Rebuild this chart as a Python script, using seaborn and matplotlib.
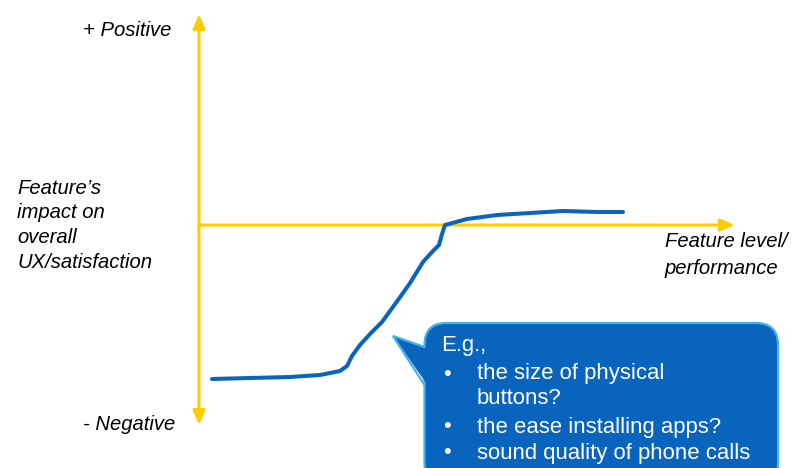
import matplotlib
matplotlib.use("Agg")
import matplotlib.pyplot as plt
from matplotlib.patches import FancyBboxPatch, Polygon
import seaborn as sns
import pandas as pd

sns.set_theme(style="white")
plt.rcParams["font.family"] = ["Liberation Sans", "DejaVu Sans"]

# Response curve: feature level vs. impact on overall UX/satisfaction
feature_level = [1.3, 5.1, 9.1, 12.1, 14.1, 14.8, 15.3, 16.1, 17.1, 18.3, 19.9,
                 21.1, 22.4, 23.4, 24.0, 24.3, 24.6, 26.8, 29.8, 33.1, 36.4,
                 39.8, 42.4]
impact = [-15.4, -15.3, -15.2, -15.0, -14.6, -14.1, -13.1, -12.0, -10.9, -9.7,
          -7.5, -5.8, -3.7, -2.6, -2.0, -0.9, 0.0, 0.6, 1.0, 1.2, 1.4, 1.3, 1.3]

y_axis_label = "Feature\u2019s\nimpact on\noverall\nUX/satisfaction"
x_axis_label = "Feature level/\nperformance"
top_label = "+ Positive"
bottom_label = "- Negative"
callout_head = "E.g.,"
callout_items = ["the size of physical\nbuttons?",
                 "the ease installing apps?",
                 "sound quality of phone calls"]

YELLOW = "#FFCC00"
BLUE = "#0A64BE"
BOX_BLUE = "#0864BC"
BOX_EDGE = "#40B4EA"

fig = plt.figure(figsize=(7.94, 4.68), dpi=100)
ax = fig.add_axes([0, 0, 1, 1])
ax.set_xlim(-19.9, 59.5)
ax.set_ylim(-24.3, 22.5)
ax.axis("off")

# Axes arrows
arrow_kw = dict(arrowstyle="-|>,head_length=0.7,head_width=0.3", color=YELLOW,
                lw=2.2, shrinkA=0, shrinkB=0)
ax.annotate("", xy=(0, 21.1), xytext=(0, 0), arrowprops=arrow_kw)
ax.annotate("", xy=(0, -20.0), xytext=(0, 0), arrowprops=arrow_kw)
ax.annotate("", xy=(53.6, 0), xytext=(0, 0), arrowprops=arrow_kw)

# Curve
df = pd.DataFrame({"level": feature_level, "impact": impact})
sns.lineplot(data=df, x="level", y="impact", sort=False, color=BLUE, lw=2.9,
             ax=ax, zorder=3)
ax.set_xlabel("")
ax.set_ylabel("")

# Axis texts
fs = 14.6
ax.text(-2.8, 19.4, top_label, ha="right", va="center", fontsize=fs,
        style="italic", color="black")
ax.text(-2.4, -20.0, bottom_label, ha="right", va="center", fontsize=fs,
        style="italic", color="black")
line_h = 2.5
for i, line in enumerate(y_axis_label.split("\n")):
    ax.text(-18.2, 3.7 - i * line_h, line, ha="left", va="center",
            fontsize=fs, style="italic", color="black")
for i, line in enumerate(x_axis_label.split("\n")):
    ax.text(46.6, -1.7 - i * 2.6, line, ha="left", va="center",
            fontsize=fs, style="italic", color="black")

# Callout box
box = FancyBboxPatch((22.55, -26.0), 35.35, 16.2,
                     boxstyle="round,pad=0,rounding_size=2.2",
                     fc=BOX_BLUE, ec=BOX_EDGE, lw=1.6, zorder=4)
ax.add_patch(box)
tip = (19.4, -11.1)
base_top = (22.55, -12.2)
base_bot = (22.55, -16.0)
ax.add_patch(Polygon([tip, (base_top[0] + 0.3, base_top[1]),
                      (base_bot[0] + 0.3, base_bot[1])],
                     closed=True, fc=BOX_BLUE, ec="none", zorder=5))
ax.plot([base_top[0], tip[0], base_bot[0]], [base_top[1], tip[1], base_bot[1]],
        color=BOX_EDGE, lw=1.6, zorder=5, solid_joinstyle="miter")

cfs = 15.9
ax.text(24.2, -12.0, callout_head, ha="left", va="center", fontsize=cfs,
        color="white", zorder=6)
item_y = [-14.9, -20.2, -22.8]
for y, item in zip(item_y, callout_items):
    ax.text(24.4, y, "\u2022", ha="left", va="center", fontsize=cfs,
            color="white", zorder=6)
    for j, line in enumerate(item.split("\n")):
        ax.text(27.8, y - j * 2.4, line, ha="left", va="center",
                fontsize=cfs, color="white", zorder=6)

fig.savefig("out.png", dpi=100)
